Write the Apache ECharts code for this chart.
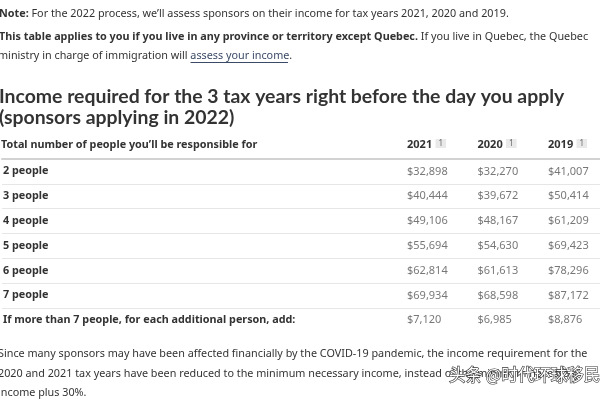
<!DOCTYPE html>
<html>
<head>
<meta charset="utf-8">
<script src="https://cdn.jsdelivr.net/npm/echarts@6/dist/echarts.min.js"></script>
<style>
  html, body { margin: 0; padding: 0; background: #fff; }
  #main { width: 600px; height: 400px; }
</style>
</head>
<body>
<div id="main"></div>
<script>
// table content
const rows = [
  '2 people',
  '3 people',
  '4 people',
  '5 people',
  '6 people',
  '7 people',
  'If more than 7 people, for each additional person, add:'
];
const years = ['2021', '2020', '2019'];
const income2021 = [32898, 40444, 49106, 55694, 62814, 69934, 7120];
const income2020 = [32270, 39672, 48167, 54630, 61613, 68598, 6985];
const income2019 = [41007, 50414, 61209, 69423, 78296, 87172, 8876];
const headerLabel = 'Total number of people you\u2019ll be responsible for';

const body = 'Noto Sans';
const textColor = '#333';
const fs = 10.8;

function money(v) {
  return '$' + v.toLocaleString('en-US');
}

function yearSeries(name, values) {
  return {
    name,
    type: 'scatter',
    xAxisIndex: 1,
    yAxisIndex: 1,
    symbolSize: 0,
    silent: true,
    data: values.map((v, i) => [name, rows[i], v]),
    label: {
      show: true,
      position: 'right',
      distance: 0,
      formatter: p => money(p.value[2]),
      fontFamily: body,
      fontSize: 11,
      color: '#555'
    }
  };
}

const myChart = echarts.init(document.getElementById('main'));
const rowH = 24.8;

const option = {
  animation: false,
  backgroundColor: '#fff',
  grid: [
    { left: 0, right: 0, top: 159, height: rowH * rows.length },
    { left: 407, width: 141, top: 159, height: rowH * rows.length }
  ],
  xAxis: [
    {
      gridIndex: 0,
      type: 'value',
      position: 'top',
      axisLine: { show: true, onZero: false, lineStyle: { color: '#d2d2d2', width: 2 } },
      axisTick: { show: false },
      axisLabel: { show: false },
      splitLine: { show: false }
    },
    {
      gridIndex: 1,
      type: 'category',
      data: years,
      position: 'top',
      boundaryGap: false,
      axisLine: { show: false },
      axisTick: { show: false },
      axisLabel: {
        interval: 0,
        align: 'left',
        margin: 8,
        formatter: v => '{y|' + v + '} {s|1}',
        rich: {
          y: { fontFamily: body, fontSize: 11, fontWeight: 'bold', color: textColor },
          s: {
            fontFamily: body, fontSize: 8, color: '#666',
            backgroundColor: '#e9e9e9', padding: [1, 3, 0, 3],
            verticalAlign: 'top'
          }
        }
      }
    }
  ],
  yAxis: [
    {
      gridIndex: 0,
      type: 'category',
      data: rows,
      inverse: true,
      axisLine: { show: false },
      axisTick: { show: false },
      axisLabel: {
        inside: true,
        margin: 1,
        fontFamily: body,
        fontSize: fs,
        fontWeight: 'bold',
        color: textColor
      },
      splitLine: {
        show: true,
        lineStyle: {
          color: ['#d2d2d2', '#e6e6e6', '#e6e6e6', '#e6e6e6', '#e6e6e6', '#e6e6e6', '#e6e6e6', 'rgba(0,0,0,0)']
        }
      }
    },
    {
      gridIndex: 1,
      type: 'category',
      data: rows,
      inverse: true,
      show: false
    }
  ],
  series: [
    yearSeries('2021', income2021),
    yearSeries('2020', income2020),
    yearSeries('2019', income2019)
  ],
  graphic: [
    {
      type: 'text', x: -1, y: 14,
      style: {
        text: '{b|Note:} For the 2022 process, we\u2019ll assess sponsors on their income for tax years 2021, 2020 and 2019.',
        font: fs + 'px "Noto Sans"', fill: textColor, verticalAlign: 'middle',
        rich: { b: { fontWeight: 'bold', fontFamily: body, fontSize: fs, fill: textColor } }
      }
    },
    {
      type: 'text', x: -1, y: 37,
      style: {
        text: '{b|This table applies to you if you live in any province or territory except Quebec.} If you live in Quebec, the Quebec',
        font: fs + 'px "Noto Sans"', fill: textColor, verticalAlign: 'middle',
        rich: { b: { fontWeight: 'bold', fontFamily: body, fontSize: fs, fill: textColor } }
      }
    },
    {
      type: 'text', x: -2, y: 56,
      style: {
        text: 'ministry in charge of immigration will {a|assess your income}.',
        font: fs + 'px "Noto Sans"', fill: textColor, verticalAlign: 'middle',
        rich: { a: { fontFamily: body, fontSize: fs, fill: '#3b4a66' } }
      }
    },
    {
      type: 'line', shape: { x1: 190.5, y1: 62.5, x2: 288, y2: 62.5 },
      style: { stroke: '#3b4a66', lineWidth: 1 }
    },
    {
      type: 'text', x: -1, y: 107.5,
      style: {
        text: 'Income required for the 3 tax years right before the day you apply\n(sponsors applying in 2022)',
        font: 'bold 19.4px Lato', fill: textColor, lineHeight: 21, verticalAlign: 'middle'
      }
    },
    {
      type: 'text', x: 1, y: 145,
      style: { text: headerLabel, font: 'bold ' + fs + 'px "Noto Sans"', fill: textColor, verticalAlign: 'middle' }
    },
    {
      type: 'text', x: -2, y: 373.5,
      style: {
        text: 'Since many sponsors may have been affected financially by the COVID-19 pandemic, the income requirement for the\n2020 and 2021 tax years have been reduced to the minimum necessary income, instead of the minimum necessary\nincome plus 30%.',
        font: fs + 'px "Noto Sans"', fill: textColor, lineHeight: 19.5, verticalAlign: 'middle'
      }
    },
    {
      type: 'text', x: 449, y: 375,
      style: {
        text: '头条 @时代环球移民',
        font: '16.5px "Noto Sans CJK SC"', fill: '#fff', verticalAlign: 'middle',
        stroke: '#333', lineWidth: 1.2
      }
    }
  ]
};

myChart.setOption(option);
</script>
</body>
</html>
